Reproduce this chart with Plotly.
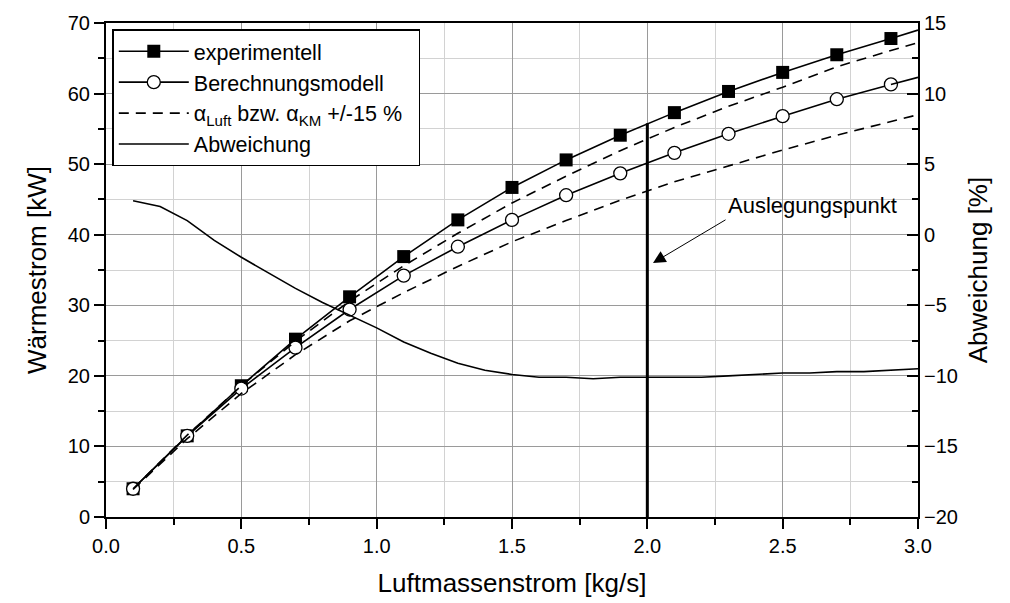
import plotly.graph_objects as go

# ---- data ----
exp_x = [0.1, 0.3, 0.5, 0.7, 0.9, 1.1, 1.3, 1.5, 1.7, 1.9, 2.1, 2.3, 2.5, 2.7, 2.9]
exp_y = [4.0, 11.5, 18.6, 25.2, 31.2, 36.9, 42.1, 46.7, 50.6, 54.1, 57.3, 60.3, 63.0, 65.5, 67.8]
exp_ext_x = [2.9, 3.0]
exp_ext_y = [67.8, 69.0]

mod_x = [0.1, 0.3, 0.5, 0.7, 0.9, 1.1, 1.3, 1.5, 1.7, 1.9, 2.1, 2.3, 2.5, 2.7, 2.9]
mod_y = [4.0, 11.5, 18.2, 24.0, 29.4, 34.2, 38.3, 42.1, 45.6, 48.7, 51.6, 54.3, 56.8, 59.2, 61.3]
mod_ext_x = [2.9, 3.0]
mod_ext_y = [61.3, 62.3]

band_x = [0.1, 0.3, 0.5, 0.7, 0.9, 1.1, 1.3, 1.5, 1.7, 1.9, 2.1, 2.3, 2.5, 2.7, 2.9, 3.0]
band_upper = [4.0, 11.6, 18.6, 24.9, 30.6, 35.6, 40.2, 44.5, 48.3, 51.9, 55.2, 58.2, 60.9, 63.8, 66.1, 67.2]
band_lower = [3.9, 11.1, 17.5, 23.0, 27.8, 31.8, 35.5, 39.0, 42.0, 44.9, 47.5, 49.8, 52.0, 54.1, 56.0, 57.0]

dev_x = [0.1, 0.2, 0.3, 0.4, 0.5, 0.6, 0.7, 0.8, 0.9, 1.0, 1.1, 1.2, 1.3, 1.4, 1.5,
         1.6, 1.7, 1.8, 1.9, 2.0, 2.1, 2.2, 2.3, 2.4, 2.5, 2.6, 2.7, 2.8, 2.9, 3.0]
dev_y = [2.4, 2.0, 1.0, -0.4, -1.6, -2.7, -3.8, -4.8, -5.7, -6.6, -7.6, -8.4, -9.1, -9.6, -9.9,
         -10.1, -10.1, -10.2, -10.1, -10.1, -10.1, -10.1, -10.0, -9.9, -9.8, -9.8, -9.7, -9.7, -9.6, -9.5]

design_x = [2.0, 2.0]
design_y = [0.0, 55.8]

x_ticks = [0.0, 0.5, 1.0, 1.5, 2.0, 2.5, 3.0]
x_tick_labels = ["0.0", "0.5", "1.0", "1.5", "2.0", "2.5", "3.0"]

FONT = "Arial, Liberation Sans, sans-serif"

fig = go.Figure()

fig.add_trace(go.Scatter(x=exp_x, y=exp_y, mode="lines+markers", name="experimentell",
                         line=dict(color="black", width=1.6),
                         marker=dict(symbol="square", size=13, color="black"),
                         legendgroup="a"))
fig.add_trace(go.Scatter(x=exp_ext_x, y=exp_ext_y, mode="lines", showlegend=False,
                         line=dict(color="black", width=1.6), hoverinfo="skip"))

fig.add_trace(go.Scatter(x=mod_x, y=mod_y, mode="lines+markers", name="Berechnungsmodell",
                         line=dict(color="black", width=1.6),
                         marker=dict(symbol="circle", size=13, color="white",
                                     line=dict(color="black", width=1.3)),
                         legendgroup="b"))
fig.add_trace(go.Scatter(x=mod_ext_x, y=mod_ext_y, mode="lines", showlegend=False,
                         line=dict(color="black", width=1.6), hoverinfo="skip"))

fig.add_trace(go.Scatter(x=band_x, y=band_upper, mode="lines",
                         name="α<sub>Luft</sub> bzw. α<sub>KM</sub> +/-15 %&nbsp;&nbsp;",
                         line=dict(color="black", width=1.6, dash="10px,7px"),
                         legendgroup="c"))
fig.add_trace(go.Scatter(x=band_x, y=band_lower, mode="lines", showlegend=False,
                         line=dict(color="black", width=1.6, dash="10px,7px"),
                         legendgroup="c"))

fig.add_trace(go.Scatter(x=dev_x, y=dev_y, mode="lines", name="Abweichung", yaxis="y2",
                         line=dict(color="black", width=1.6), legendgroup="d"))

fig.add_trace(go.Scatter(x=design_x, y=design_y, mode="lines", showlegend=False,
                         line=dict(color="black", width=3), hoverinfo="skip"))

fig.add_annotation(x=2.021, y=36.0, xref="x", yref="y", text="", showarrow=True,
                   ax=74, ay=-44, arrowhead=2, arrowsize=2.5, arrowwidth=1.0,
                   arrowcolor="black")
fig.add_annotation(x=(812 - 106) / 812, y=(517 - 205) / 494, xref="paper", yref="paper",
                   xanchor="center", yanchor="middle",
                   text="Auslegungspunkt", showarrow=False,
                   font=dict(family=FONT, size=22, color="black"))

fig.update_layout(
    width=1010, height=603,
    margin=dict(l=106, r=92, t=23, b=86),
    paper_bgcolor="white", plot_bgcolor="white",
    font=dict(family=FONT, size=20, color="black"),
    showlegend=True,
    legend=dict(x=0.008, y=0.987, xanchor="left", yanchor="top",
                bgcolor="white", bordercolor="black", borderwidth=1.3,
                font=dict(family=FONT, size=21.5, color="black"),
                itemwidth=70, tracegroupgap=0, traceorder="grouped"),
    xaxis=dict(range=[0, 3.0], tickvals=x_ticks, ticktext=x_tick_labels, automargin=False,
               ticks="outside", ticklen=10, tickwidth=1.5, tickcolor="black",
               showline=True, linecolor="black", linewidth=2, mirror=True,
               showgrid=True, gridcolor="#9a9a9a", gridwidth=1.3, zeroline=False,
               minor=dict(dtick=0.25, ticks="outside", ticklen=6, tickwidth=1.5,
                          tickcolor="black", showgrid=True, gridcolor="#d2d2d2", gridwidth=1.3),
               title=dict(text="Luftmassenstrom [kg/s]", font=dict(size=26), standoff=18)),
    yaxis=dict(range=[0, 70], dtick=10, tick0=0, automargin=False,
               ticks="outside", ticklen=10, tickwidth=1.5, tickcolor="black",
               showline=True, linecolor="black", linewidth=2,
               showgrid=True, gridcolor="#9a9a9a", gridwidth=1.3, zeroline=False,
               minor=dict(dtick=5, ticks="outside", ticklen=6, tickwidth=1.5,
                          tickcolor="black", showgrid=True, gridcolor="#d2d2d2", gridwidth=1.3),
               title=dict(text="Wärmestrom [kW]", font=dict(size=26), standoff=14)),
    yaxis2=dict(range=[-20, 15], dtick=5, tick0=0, overlaying="y", side="right", automargin=False,
                ticks="inside", ticklen=11, tickwidth=1.5, tickcolor="black",
                showline=True, linecolor="black", linewidth=2,
                showgrid=False, zeroline=False,
                minor=dict(dtick=2.5, ticks="inside", ticklen=6, tickwidth=1.5,
                           tickcolor="black", showgrid=False),
                title=dict(text="Abweichung [%]", font=dict(size=26), standoff=12)),
)

fig.write_html("out.html")
